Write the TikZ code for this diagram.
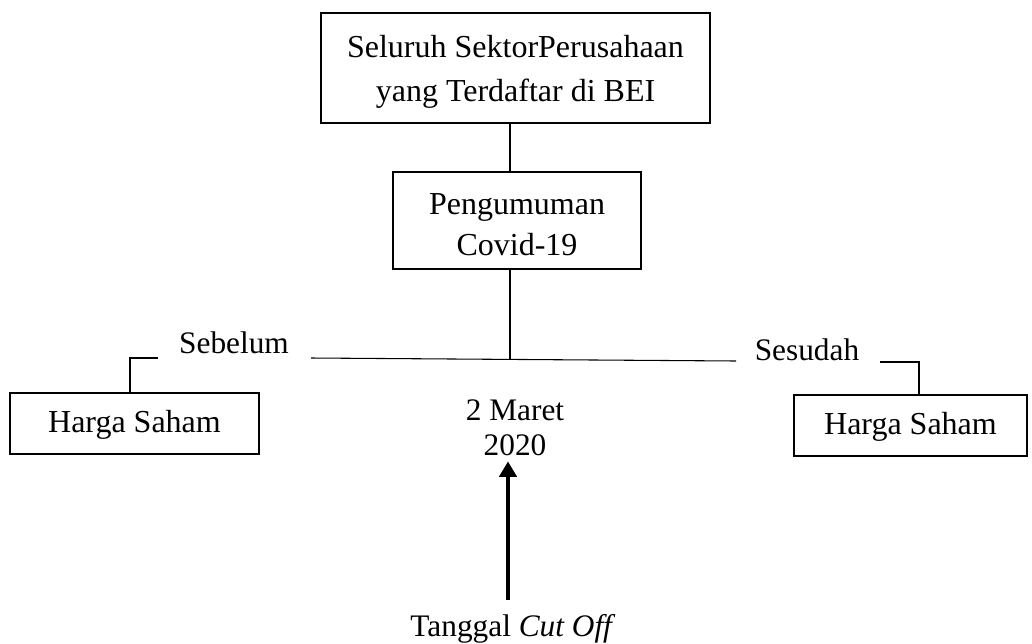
\documentclass[tikz,border=0pt]{standalone}
\usepackage{fontspec}
\setmainfont{Liberation Serif}
\usetikzlibrary{arrows.meta}
\begin{document}
\begin{tikzpicture}[x=0.75pt,y=-0.75pt,
  box/.style={draw,line width=2pt,inner sep=0pt,align=center,font=\fontsize{24}{33}\selectfont},
  lbl/.style={inner sep=0pt,align=center,font=\fontsize{23.5}{26}\selectfont},
  conn/.style={line width=0.8pt},
  arr/.style={line width=2.4pt,-{Triangle[width=13pt,length=11.5pt]}}]
\useasboundingbox (0,0) rectangle (1032,643);
\node[box,minimum width=291.75pt,minimum height=82.5pt] (top) at (515.5,68) {\strut Seluruh SektorPerusahaan\\yang Terdaftar di BEI};
\node[box,minimum width=186pt,minimum height=72.75pt,font=\fontsize{24}{31}\selectfont] (mid) at (517,220.5) {\strut Pengumuman\\Covid-19};
\node[box,minimum width=186.75pt,minimum height=45.75pt] (hs1) at (134.5,423.5) {\strut Harga Saham};
\node[box,minimum width=174.75pt,minimum height=45.75pt] (hs2) at (910.5,425.5) {\strut Harga Saham};
\node[lbl] (seb) at (234,343) {Sebelum};
\node[lbl] (ses) at (807,350) {Sesudah};
\node[lbl,inner xsep=1pt,inner ysep=4pt] (date) at (515,428) {2 Maret\\2020};
\node[lbl] (cut) at (513,629) {Tanggal \textit{Cut Off}};
\coordinate (vx) at (510,0);
\coordinate (hl) at (311,358);
\coordinate (hr) at (736,361);
\coordinate (hj) at (510,359.5);
\coordinate (lb1) at (158,358);
\coordinate (lb0) at (130,358);
\coordinate (rb1) at (880,362);
\coordinate (rb0) at (919,362);
\coordinate (atail) at (508,600);
\draw[conn] (top.south -| vx) -- (mid.north -| vx);
\draw[conn] (mid.south -| vx) -- (hj);
\draw[conn] (hl) -- (hr);
\draw[conn] (lb1) -- (lb0) -- (lb0 |- hs1.north);
\draw[conn] (rb1) -- (rb0) -- (rb0 |- hs2.north);
\draw[arr] (atail) -- (atail |- date.south);
\end{tikzpicture}
\end{document}
